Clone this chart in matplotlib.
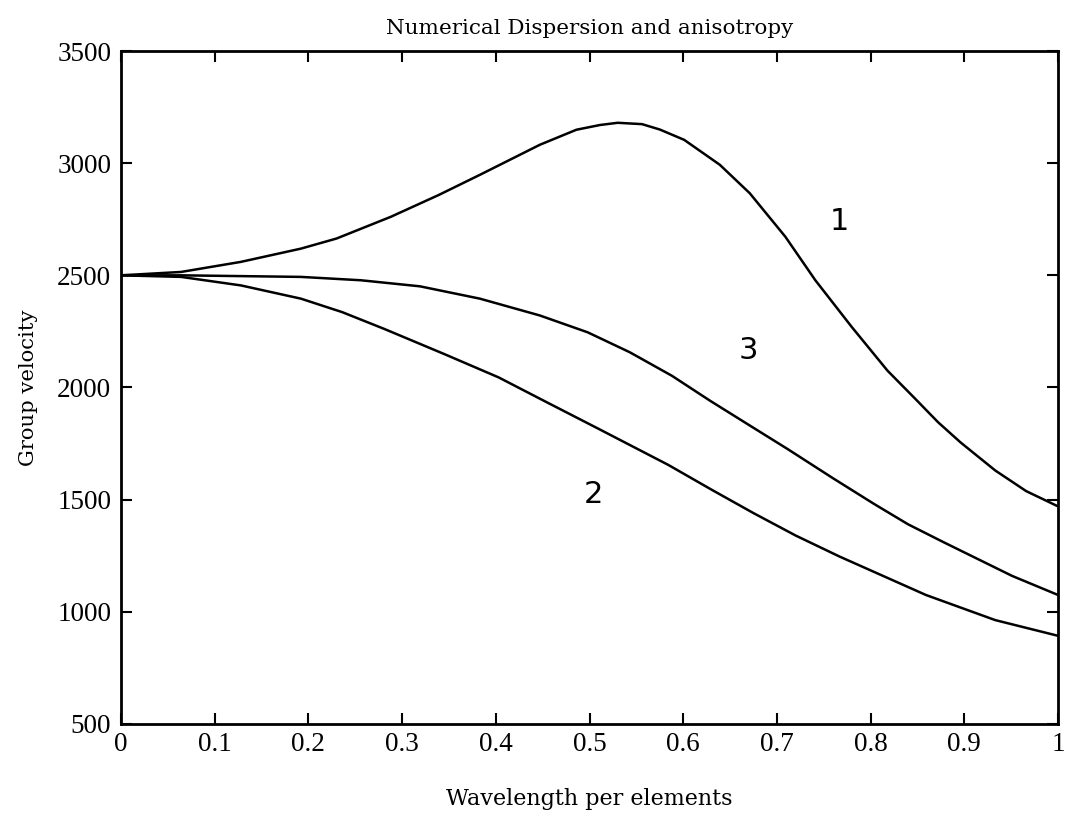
import numpy as np
import matplotlib.pyplot as plt

# curve values
x1 = [0, 0.064, 0.128, 0.192, 0.230, 0.288, 0.339, 0.383, 0.415, 0.447, 0.486, 0.511, 0.530, 0.556,
      0.575, 0.601, 0.639, 0.671, 0.709, 0.741, 0.780, 0.818, 0.848, 0.872, 0.896, 0.933, 0.966, 1.0]
y1 = [2500, 2515, 2560, 2619, 2664, 2761, 2858, 2948, 3015, 3082, 3149, 3170, 3180, 3174,
      3150, 3104, 2993, 2866, 2672, 2478, 2269, 2075, 1948, 1845, 1755, 1630, 1538, 1470]

x3 = [0, 0.064, 0.192, 0.256, 0.319, 0.383, 0.447, 0.498, 0.543, 0.588, 0.629, 0.672, 0.712,
      0.760, 0.804, 0.840, 0.878, 0.951, 1.0]
y3 = [2500, 2500, 2493, 2478, 2451, 2396, 2321, 2246, 2157, 2052, 1940, 1828, 1724,
      1595, 1480, 1390, 1310, 1160, 1075]

x2 = [0, 0.064, 0.128, 0.192, 0.236, 0.281, 0.345, 0.403, 0.454, 0.510, 0.584, 0.630, 0.675,
      0.720, 0.767, 0.859, 0.933, 1.0]
y2 = [2500, 2493, 2455, 2396, 2336, 2261, 2149, 2045, 1935, 1815, 1655, 1545, 1440,
      1340, 1246, 1075, 963, 893]

curve_labels = ['1', '3', '2']
label_x = [0.767, 0.670, 0.504]
label_y = [2739, 2164, 1522]

xticks = np.arange(0, 1.01, 0.1)
xtick_labels = ['0', '0.1', '0.2', '0.3', '0.4', '0.5', '0.6', '0.7', '0.8', '0.9', '1']
yticks = [500, 1000, 1500, 2000, 2500, 3000, 3500]

tick_font = 'Liberation Serif'
label_font = 'DejaVu Serif'

fig = plt.figure(figsize=(10.67, 8.24), dpi=100)
ax = fig.add_axes([0.1134, 0.1214, 0.8782, 0.8167])

for xs, ys in [(x1, y1), (x3, y3), (x2, y2)]:
    ax.plot(xs, ys, color='black', linewidth=1.8)

for lab, lx, ly in zip(curve_labels, label_x, label_y):
    ax.text(lx, ly, lab, fontsize=22, family='DejaVu Sans', ha='center', va='center')

ax.set_xlim(0, 1)
ax.set_ylim(500, 3500)
ax.set_xticks(xticks)
ax.set_xticklabels(xtick_labels)
ax.set_yticks(yticks)
ax.tick_params(direction='in', length=8, width=1.5, top=True, right=True, labelsize=19.5)
ax.tick_params(axis='y', pad=7)
ax.tick_params(axis='x', pad=6)
for lbl in ax.get_xticklabels() + ax.get_yticklabels():
    lbl.set_family(tick_font)
for sp in ax.spines.values():
    sp.set_linewidth(2)

ax.set_title('Numerical Dispersion and anisotropy', family=label_font, fontsize=15.4, pad=12)
ax.set_xlabel('Wavelength per elements', family=label_font, fontsize=16, labelpad=22)
ax.set_ylabel('Group velocity', family=label_font, fontsize=15.2, labelpad=14)

fig.savefig('out.png', dpi=100)
